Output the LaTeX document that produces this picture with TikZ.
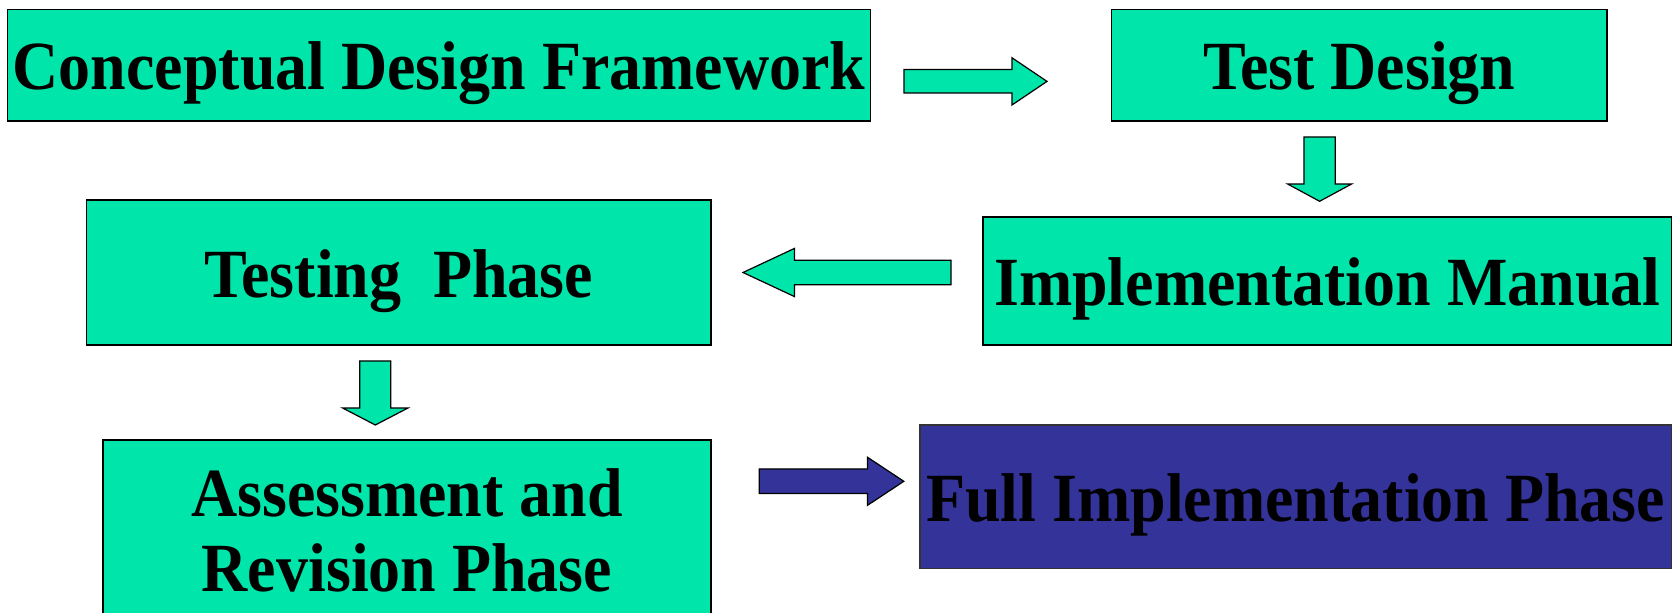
\documentclass[tikz,border=0pt]{standalone}
\usepackage{fontspec}
\setmainfont{Liberation Serif}
\newfontfamily\stagefont{Liberation Serif}[FakeStretch=0.927]
\definecolor{boxgreen}{RGB}{0,229,170}
\definecolor{boxblue}{RGB}{51,51,153}
\tikzset{
  stage/.style={draw=black, line width=0.6pt, fill=boxgreen, rectangle, inner sep=0pt,
    font=\stagefont\bfseries\fontsize{34.5}{37.5}\selectfont, text height=24.6pt, text depth=0pt, align=center},
  finalstage/.style={stage, fill=boxblue, draw=black!80},
  garrow/.style={draw=black, line width=0.6pt, fill=boxgreen, line join=miter},
  barrow/.style={garrow, fill=boxblue}
}
\begin{document}
\begin{tikzpicture}[x=0.5pt, y=-0.5pt]
\useasboundingbox (0,0) rectangle (1679,613);
% boxes
\node[stage, minimum width=431.5pt, minimum height=55.7pt] (cdf) at (439,65.3) {Conceptual Design Framework};
\node[stage, minimum width=247.75pt, minimum height=55.7pt] (td) at (1359.3,65.3) {Test Design};
\node[stage, minimum width=344.25pt, minimum height=64pt] (im) at (1327.3,281) {Implementation Manual};
\node[stage, minimum width=312.15pt, minimum height=72.5pt] (tp) at (398.9,272.5) {Testing\ \ Phase};
\node[stage, minimum width=304pt, minimum height=126.4pt] (ar) at (407,566.4) {Assessment and\\Revision Phase};
\node[finalstage, minimum width=375.75pt, minimum height=71.8pt] (fi) at (1295.7,496.8) {Full Implementation Phase};
% block arrows
\draw[garrow] (904,69.6) -- (1012,69.6) -- (1012,57.8) -- (1047,81.4) -- (1012,105) -- (1012,93) -- (904,93) -- cycle;
\draw[garrow] (1303.9,137) -- (1335.3,137) -- (1335.3,184) -- (1351.6,184) -- (1319.6,201.3) -- (1287.6,184) -- (1303.9,184) -- cycle;
\draw[garrow] (951,260.2) -- (794.5,260.2) -- (794.5,248.4) -- (743,272.5) -- (794.5,296.6) -- (794.5,284.8) -- (951,284.8) -- cycle;
\draw[garrow] (359.8,361) -- (390.8,361) -- (390.8,408) -- (408,408) -- (375.3,425) -- (342.6,408) -- (359.8,408) -- cycle;
\draw[barrow] (759.2,469) -- (867.4,469) -- (867.4,457.2) -- (903.8,481.3) -- (867.4,505.4) -- (867.4,493.6) -- (759.2,493.6) -- cycle;
\end{tikzpicture}
\end{document}
